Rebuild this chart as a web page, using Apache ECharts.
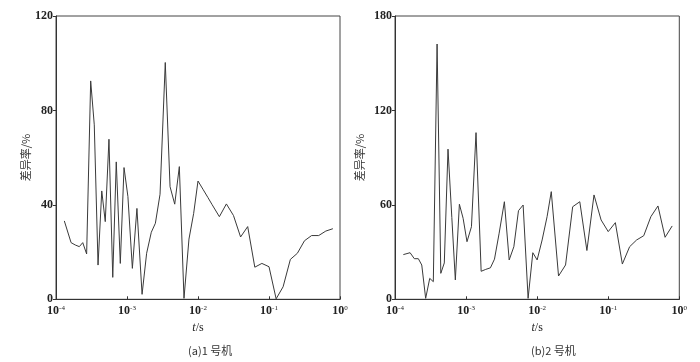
<!DOCTYPE html>
<html><head><meta charset="utf-8">
<script src="https://cdn.jsdelivr.net/npm/echarts@6/dist/echarts.min.js"></script>
<style>html,body{margin:0;padding:0;background:#fff}#c{width:700px;height:362px}</style>
</head><body><div id="c"></div>
<script>
// time points (s)
const timesS = [1.31e-4,1.63e-4,1.87e-4,2.13e-4,2.38e-4,2.70e-4,3.08e-4,3.46e-4,3.91e-4,4.41e-4,
  4.94e-4,5.57e-4,6.30e-4,7.06e-4,8.05e-4,9.08e-4,1.03e-3,1.19e-3,1.38e-3,1.63e-3,
  1.89e-3,2.20e-3,2.51e-3,2.92e-3,3.46e-3,4.04e-3,4.70e-3,5.46e-3,6.35e-3,7.46e-3,
  8.69e-3,1.00e-2,1.175e-2,1.38e-2,1.58e-2,0.0200,0.0251,0.0316,0.0398,0.0501,
  0.0631,0.0794,0.100,0.126,0.158,0.200,0.251,0.316,0.398,0.501,0.631,0.794];
// unit 1 difference rate (%)
const unit1 = [33.2,24.0,23.0,22.3,24.0,19.2,92.5,73.9,14.5,45.9,
  32.9,67.8,9.3,58.2,15.2,55.8,43.5,13.1,38.5,2.1,
  19.5,28.4,32.2,44.5,100.3,47.7,40.3,56.2,0.4,25.5,
  36.4,50.1,46.6,43.1,40.1,35.0,40.4,35.5,26.4,30.8,
  13.6,15.2,13.8,0.2,5.3,16.9,19.5,24.8,27.0,27.0,28.9,29.9];
// unit 2 difference rate (%)
const unit2 = [28.4,29.6,25.8,25.8,21.8,0.6,13.3,11.2,162.2,16.5,
  23.1,95.4,52.0,12.3,60.4,51.5,36.6,46.1,105.9,17.8,
  19.0,20.0,25.5,42.0,62.0,25.0,33.4,56.3,59.9,0.6,
  29.6,25.0,37.7,52.5,68.4,14.8,21.8,58.8,62.0,31.0,
  66.3,50.4,43.0,48.7,22.4,33.4,37.7,40.4,52.5,59.3,39.4,46.6];
const yTicks1 = [0,40,80,120];
const yTicks2 = [0,60,120,180];
const captions = ['(a)1 号机','(b)2 号机'];
const yName = '差异率/%';

const serif = 'Liberation Serif';
const cjk = 'Noto Sans CJK SC';
const txt = '#222';

function xAxisCfg(gi){
  return {
    type:'log', logBase:10, min:1e-4, max:1, gridIndex:gi, splitNumber:4,
    name:'{i|t}{n|/s}', nameLocation:'middle', nameGap:16,
    nameTextStyle:{rich:{i:{fontFamily:serif,fontStyle:'italic',fontSize:12,color:txt},n:{fontFamily:serif,fontSize:12,color:txt}}},
    axisLine:{lineStyle:{color:'#333',width:1}},
    axisTick:{show:true,inside:true,length:3,lineStyle:{color:'#333'}},
    minorTick:{show:false}, splitLine:{show:false},
    axisLabel:{margin:5,formatter:function(v){const e=Math.round(Math.log10(v));return '{b|10}{s|'+e+'}';},
      rich:{b:{fontFamily:serif,fontSize:12,color:txt,fontWeight:'bold'},
            s:{fontFamily:serif,fontSize:7,color:txt,verticalAlign:'bottom',padding:[0,0,7,0]}}}
  };
}
function yAxisCfg(gi,ticks,nameGap){
  return {
    type:'value', gridIndex:gi, min:ticks[0], max:ticks[ticks.length-1], interval:ticks[1]-ticks[0],
    name:yName, nameLocation:'middle', nameGap:nameGap, nameRotate:90,
    nameTextStyle:{fontFamily:cjk,fontSize:11,color:'#333'},
    axisLine:{show:true,lineStyle:{color:'#333',width:1}},
    axisTick:{show:true,inside:false,length:3,lineStyle:{color:'#333'}},
    splitLine:{show:false},
    axisLabel:{margin:3,fontFamily:serif,fontSize:12,fontWeight:'bold',color:txt}
  };
}
const chart = echarts.init(document.getElementById('c'),null,{renderer:'canvas'});
chart.setOption({
  animation:false,
  backgroundColor:'#fff',
  grid:[
    {left:56,right:360,top:16,bottom:62.7,show:true,borderColor:'#444',borderWidth:1},
    {left:395,right:20.7,top:16,bottom:62.7,show:true,borderColor:'#444',borderWidth:1}
  ],
  xAxis:[xAxisCfg(0),xAxisCfg(1)],
  yAxis:[yAxisCfg(0,yTicks1,24),yAxisCfg(1,yTicks2,30)],
  series:[
    {type:'line',xAxisIndex:0,yAxisIndex:0,showSymbol:false,symbol:'none',
     lineStyle:{color:'#3a3a3a',width:1},data:timesS.map((t,i)=>[t,unit1[i]])},
    {type:'line',xAxisIndex:1,yAxisIndex:1,showSymbol:false,symbol:'none',
     lineStyle:{color:'#3a3a3a',width:1},data:timesS.map((t,i)=>[t,unit2[i]])}
  ],
  graphic:[
    {type:'text',left:188,top:345,style:{text:captions[0],font:'11px "Noto Sans CJK SC"',fill:'#333',textAlign:'center'}},
    {type:'text',left:531,top:345,style:{text:captions[1],font:'11px "Noto Sans CJK SC"',fill:'#333',textAlign:'center'}}
  ]
});
</script></body></html>
